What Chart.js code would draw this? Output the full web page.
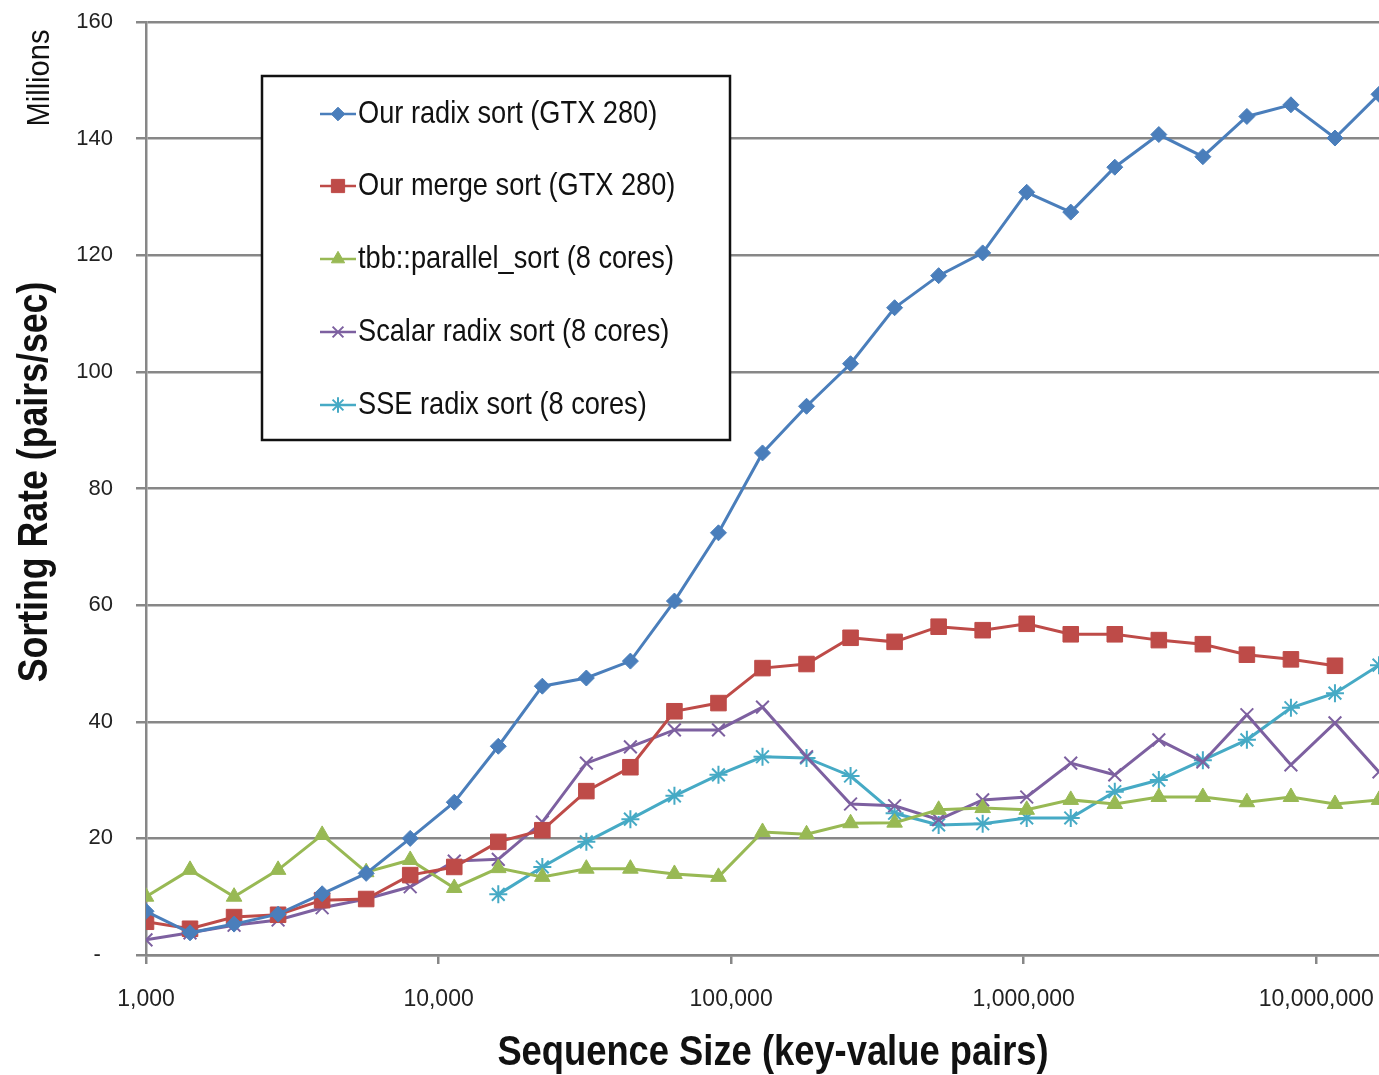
<!DOCTYPE html>
<html>
<head>
<meta charset="utf-8">
<script src="https://cdn.jsdelivr.net/npm/chart.js@4/dist/chart.umd.min.js"></script>
<style>
html, body { margin: 0; padding: 0; background: #fff; overflow: hidden; }
#wrap { width: 1379px; height: 1075px; position: relative; }
#wrap canvas { display: block; }
</style>
</head>
<body>
<div id="wrap"><canvas id="chart"></canvas></div>
<script>
// sequence sizes (key-value pairs), one point per sqrt(2) step
var sizes = [1000, 1414, 2000, 2828, 4000, 5657, 8000, 11314, 16000, 22627,
    32000, 45255, 64000, 90510, 128000, 181019, 256000, 362039, 512000, 724077,
    1024000, 1448155, 2048000, 2896309, 4096000, 5792619, 8192000, 11585237, 16384000];
var xTicks = [1000, 10000, 100000, 1000000, 10000000];
var yTicks = [0, 20, 40, 60, 80, 100, 120, 140, 160];

// sorting rate, millions of pairs/sec
var radixGtx = [7.5, 3.8, 5.3, 7.0, 10.5, 14.0, 20.0, 26.2, 35.8, 46.1,
    47.5, 50.4, 60.7, 72.4, 86.1, 94.1, 101.4, 111.0, 116.5, 120.4,
    130.8, 127.4, 135.1, 140.7, 136.9, 143.8, 145.8, 140.1, 147.6];
var mergeGtx = [5.7, 4.5, 6.5, 6.9, 9.4, 9.6, 13.7, 15.1, 19.4, 21.4,
    28.1, 32.2, 41.8, 43.2, 49.2, 49.9, 54.4, 53.7, 56.3, 55.7,
    56.8, 55.0, 55.0, 54.0, 53.3, 51.5, 50.7, 49.6, null];
var tbbSort = [10.0, 14.6, 10.0, 14.6, 20.6, 14.2, 16.3, 11.5, 14.9, 13.4,
    14.8, 14.8, 13.9, 13.4, 21.1, 20.7, 22.6, 22.7, 24.9, 25.2,
    24.9, 26.6, 25.9, 27.1, 27.1, 26.2, 27.1, 25.9, 26.6];
var scalarRadix = [2.6, 3.8, 5.1, 6.0, 8.1, 9.6, 11.7, 16.1, 16.4, 22.8,
    32.9, 35.7, 38.6, 38.6, 42.5, 34.0, 25.9, 25.6, 23.2, 26.6,
    27.1, 32.9, 30.9, 36.9, 33.1, 41.2, 32.6, 39.8, 31.4];
var sseRadix = [null, null, null, null, null, null, null, null, 10.4, 15.1,
    19.4, 23.3, 27.3, 30.9, 34.0, 33.8, 30.7, 24.3, 22.3, 22.5,
    23.5, 23.5, 28.0, 30.0, 33.4, 36.9, 42.4, 44.9, 49.7];

var seriesLabels = ['Our radix sort (GTX 280)', 'Our merge sort (GTX 280)',
    'tbb::parallel_sort (8 cores)', 'Scalar radix sort (8 cores)', 'SSE radix sort (8 cores)'];

var FONT = '"Liberation Sans", Arial, sans-serif';
var GRID = '#878787';
var PAGE_W = 1379;

function toPoints(values) {
    return sizes.map(function(s, i) { return { x: s, y: values[i] }; });
}

function makeSet(label, values, color, style, radius, bw) {
    return {
        label: label,
        data: toPoints(values),
        borderColor: color,
        backgroundColor: color,
        borderWidth: 3,
        pointStyle: style,
        pointRadius: radius,
        pointBackgroundColor: color,
        pointBorderColor: color,
        pointBorderWidth: bw,
        tension: 0
    };
}

// draws text squeezed along its own direction
function condensedText(ctx, text, x, y, angle, font, sx) {
    ctx.save();
    ctx.translate(x, y);
    ctx.rotate(angle);
    ctx.scale(sx, 1);
    ctx.font = font;
    ctx.fillStyle = '#111';
    ctx.textAlign = 'center';
    ctx.textBaseline = 'middle';
    ctx.fillText(text, 0, 0);
    ctx.restore();
}

var boxLegend = {
    id: 'boxLegend',
    afterDatasetsDraw: function(chart) {
        var ctx = chart.ctx;
        var rows = [114, 186, 259, 332, 405];
        ctx.save();
        ctx.fillStyle = '#fff';
        ctx.fillRect(262, 76, 468, 364);
        ctx.lineWidth = 2.5;
        ctx.strokeStyle = '#111';
        ctx.strokeRect(262, 76, 468, 364);
        chart.data.datasets.forEach(function(ds, i) {
            var y = rows[i];
            ctx.strokeStyle = ds.borderColor;
            ctx.lineWidth = 2.5;
            ctx.beginPath();
            ctx.moveTo(320, y);
            ctx.lineTo(356, y);
            ctx.stroke();
            if (Chart.helpers && Chart.helpers.drawPoint) {
                ctx.fillStyle = ds.pointBackgroundColor;
                ctx.strokeStyle = ds.pointBorderColor;
                ctx.lineWidth = ds.pointBorderWidth;
                Chart.helpers.drawPoint(ctx, {
                    pointStyle: ds.pointStyle,
                    radius: ds.pointRadius * 0.85,
                    borderWidth: ds.pointBorderWidth,
                    rotation: 0
                }, 338, y);
            }
            ctx.save();
            ctx.translate(358, y);
            ctx.scale(0.85, 1);
            ctx.font = '32px ' + FONT;
            ctx.fillStyle = '#111';
            ctx.textBaseline = 'middle';
            ctx.fillText(ds.label, 0, 0);
            ctx.restore();
        });
        ctx.restore();
    }
};

var axisTitles = {
    id: 'axisTitles',
    afterDraw: function(chart) {
        var ctx = chart.ctx;
        condensedText(ctx, 'Millions', 40, 78, -Math.PI / 2, '32px ' + FONT, 0.91);
        condensedText(ctx, 'Sorting Rate (pairs/sec)', 35, 482, -Math.PI / 2, 'bold 42px ' + FONT, 0.85);
        condensedText(ctx, 'Sequence Size (key-value pairs)', 773, 1053, 0, 'bold 42px ' + FONT, 0.865);
    }
};

var chart = new Chart(document.getElementById('chart'), {
    type: 'line',
    data: {
        datasets: [
            makeSet(seriesLabels[0], radixGtx, '#4a7ebb', 'rectRot', 8, 1),
            makeSet(seriesLabels[1], mergeGtx, '#be4b48', 'rect', 11, 1),
            makeSet(seriesLabels[2], tbbSort, '#98b954', 'triangle', 9, 1),
            makeSet(seriesLabels[3], scalarRadix, '#7d60a0', 'crossRot', 9, 2),
            makeSet(seriesLabels[4], sseRadix, '#46aac5', 'star', 9, 2)
        ]
    },
    options: {
        responsive: true,
        maintainAspectRatio: false,
        animation: false,
        layout: { padding: { top: 22, right: 0, left: 0, bottom: 0 } },
        plugins: {
            legend: { display: false },
            tooltip: { enabled: false }
        },
        scales: {
            x: {
                type: 'logarithmic',
                min: sizes[0],
                max: sizes[sizes.length - 1],
                afterBuildTicks: function(scale) {
                    scale.ticks = xTicks.map(function(v) { return { value: v }; });
                },
                afterFit: function(scale) {
                    scale.height = 120;
                    scale.paddingLeft = 0;
                    scale.paddingRight = 0;
                },
                grid: { drawOnChartArea: false, drawTicks: true, tickLength: 9, color: GRID, lineWidth: 2.5 },
                border: { display: true, color: GRID, width: 2.5 },
                ticks: {
                    autoSkip: false,
                    maxRotation: 0,
                    padding: 22,
                    color: '#222',
                    font: { family: FONT, size: 23 },
                    callback: function(value) { return Number(value).toLocaleString('en-US'); }
                }
            },
            y: {
                min: 0,
                max: 160,
                afterBuildTicks: function(scale) {
                    scale.ticks = yTicks.map(function(v) { return { value: v }; });
                },
                afterFit: function(scale) {
                    scale.width = 146;
                    scale.paddingTop = 0;
                    scale.paddingBottom = 0;
                },
                grid: { color: GRID, lineWidth: 2.5, tickLength: 10 },
                border: { display: true, color: GRID, width: 2.5 },
                ticks: {
                    padding: 23,
                    color: '#222',
                    font: { family: FONT, size: 22 },
                    callback: function(value) { return value === 0 ? '-  ' : value; }
                }
            }
        }
    },
    plugins: [boxLegend, axisTitles]
});

// the original plot runs to the right edge of the picture: widen the canvas
// past the page so the plot area ends exactly there
var wrap = document.getElementById('wrap');
for (var pass = 0; pass < 3; pass++) {
    var gap = Math.round(PAGE_W - chart.chartArea.right);
    if (gap === 0) break;
    wrap.style.width = (parseFloat(wrap.style.width || PAGE_W) + gap) + 'px';
    chart.resize();
}
</script>
</body>
</html>
